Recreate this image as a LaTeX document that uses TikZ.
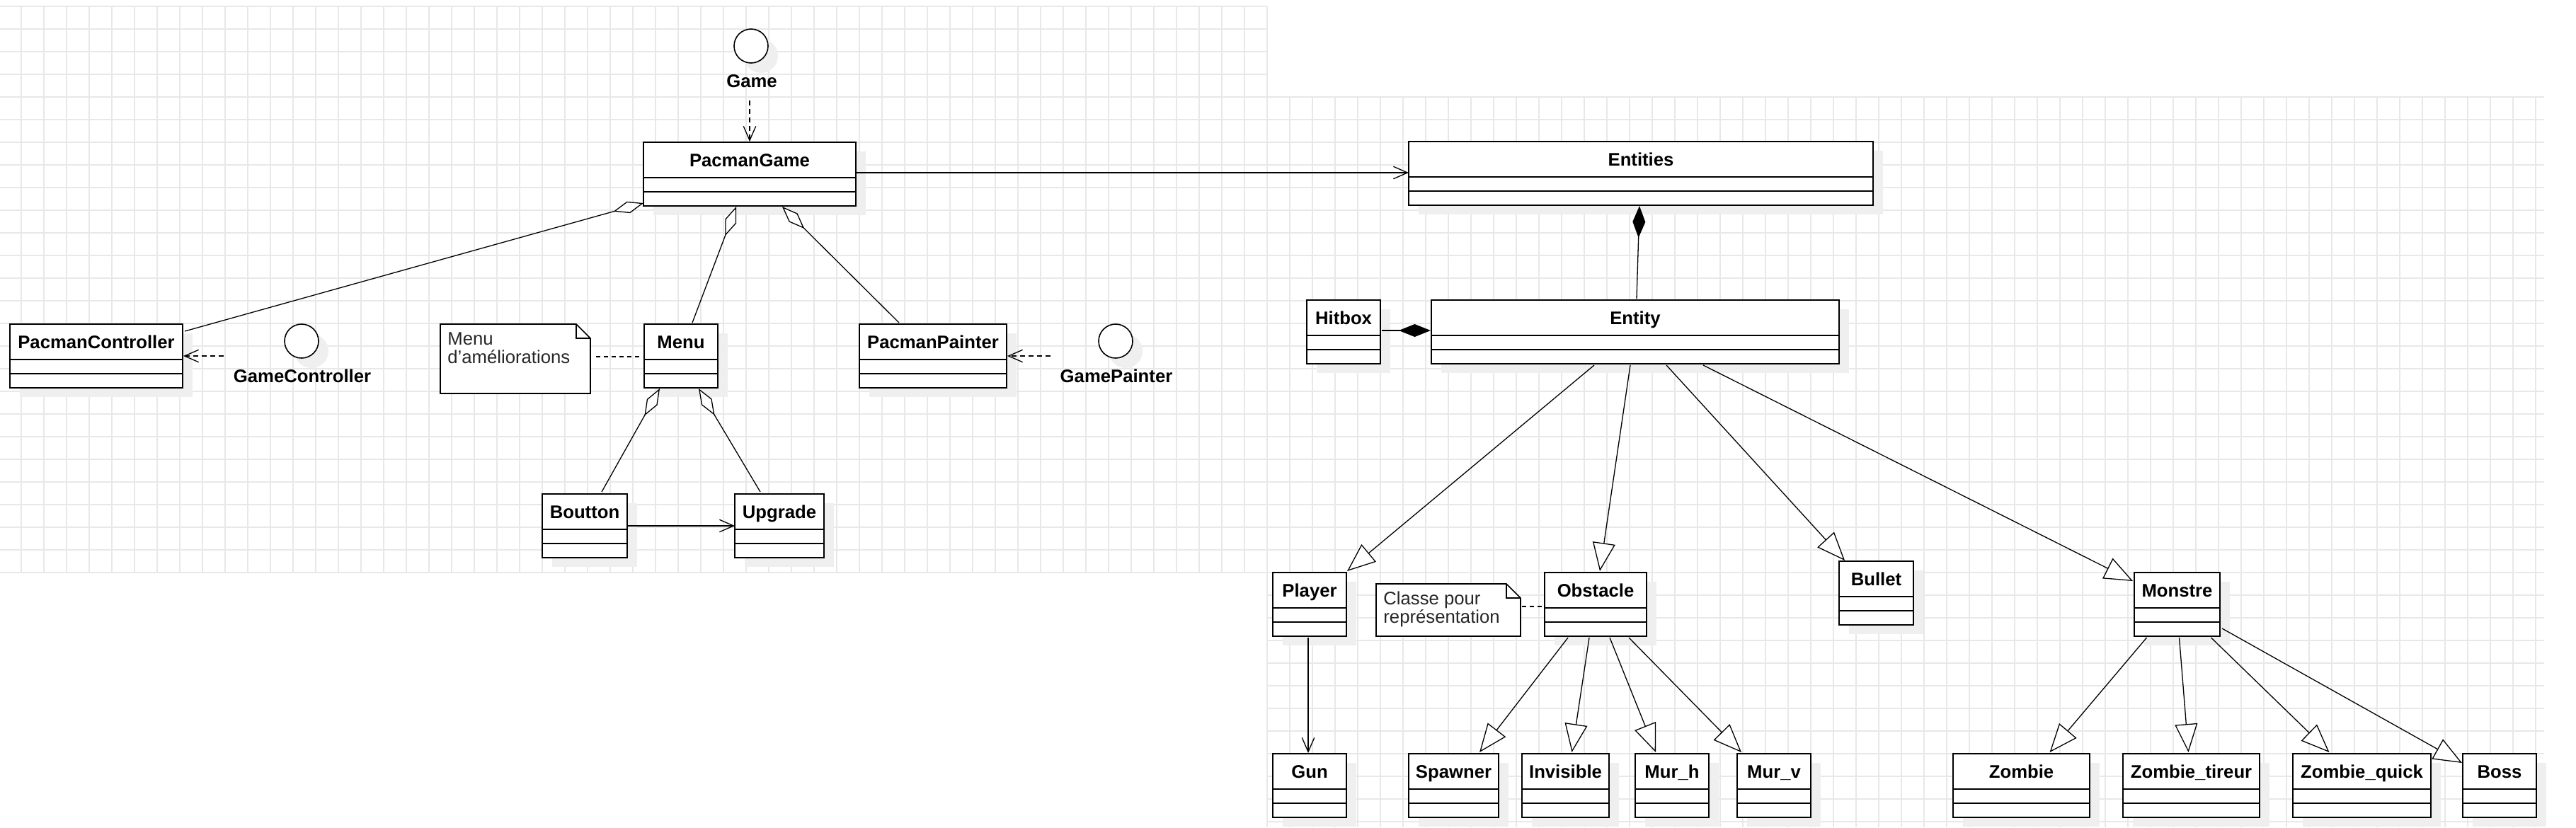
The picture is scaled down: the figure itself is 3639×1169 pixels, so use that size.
\documentclass[tikz,border=0pt]{standalone}
\usepackage{fontspec}
\setmainfont{Liberation Sans}
\usetikzlibrary{arrows.meta,calc}
\definecolor{gridc}{RGB}{232,232,232}
\definecolor{shadowc}{RGB}{239,239,239}
\newcommand{\umlcls}[6]{%
  \fill[shadowc] (#2+14,#3+13) rectangle (#4+14,#5+13);
  \node[classbox, minimum width={(#4-#2)*0.5pt}, minimum height={(#5-#3)*0.5pt}, anchor=north west] (#1) at (#2,#3) {};
  \draw[boxrule] ($(#1.north west)+(0,50)$) -- ($(#1.north east)+(0,50)$);
  \draw[boxrule] ($(#1.north west)+(0,70)$) -- ($(#1.north east)+(0,70)$);
  \node[clsname, anchor=base] at ($(#1.north)+(0,34)$) {#6};
}
\newcommand{\umliface}[5]{% name, cx, cy, label name, text
  \fill[shadowc] (#2+14,#3+14) circle[radius=12pt];
  \node[iface] (#1) at (#2,#3) {};
  \node[clsname, anchor=base] (#4) at ($(#1)+(1,58)$) {#5};
}
\newcommand{\umlnote}[7]{% name, x1,y1,x2,y2, line1, line2
  \node[notebox, minimum width={(#4-#2)*0.5pt}, minimum height={(#5-#3)*0.5pt}, anchor=north west] (#1) at (#2,#3) {};
  \draw[noteline] (#1.north west) -- ($(#1.north east)+(-20,0)$) -- ($(#1.north east)+(0,20)$) -- (#1.south east) -- (#1.south west) -- cycle;
  \draw[noteline, fill=none] ($(#1.north east)+(-20,0)$) -- ($(#1.north east)+(-20,20)$) -- ($(#1.north east)+(0,20)$);
  \node[notetxt, anchor=base west] at ($(#1.north west)+(10,29)$) {#6};
  \node[notetxt, anchor=base west] at ($(#1.north west)+(10,55)$) {#7};
}
\begin{document}
\begin{tikzpicture}[x=0.5pt,y=-0.5pt,
  classbox/.style={rectangle, draw, line width=0.85pt, fill=white, inner sep=0pt, outer sep=0pt},
  boxrule/.style={line width=0.85pt},
  clsname/.style={font=\fontsize{12.85pt}{15pt}\selectfont\bfseries, inner sep=0pt},
  notetxt/.style={font=\fontsize{12.85pt}{15pt}\selectfont, text=black!85, inner sep=0pt},
  notebox/.style={rectangle, inner sep=0pt, outer sep=0pt},
  noteline/.style={draw, line width=0.85pt, fill=white, line join=miter},
  iface/.style={circle, draw, line width=0.8pt, fill=white, minimum size=24pt, inner sep=0pt},
  conn/.style={line width=0.65pt, line join=miter},
  assoc/.style={conn, -{Straight Barb[length=10pt,width=8.7pt]}},
  dep/.style={assoc, dash pattern=on 3.5pt off 2.5pt},
  notelink/.style={conn, dash pattern=on 3pt off 2.5pt},
  aggr/.style={conn, {Diamond[fill=white,length=22pt,width=8.5pt]}-},
  compo/.style={conn, {Diamond[length=22.5pt,width=9pt]}-},
  inherit/.style={conn, -{Triangle[fill=white,length=20pt,width=16pt]}},
  gridline/.style={draw=gridc, line width=0.6pt},
]
\useasboundingbox (0,0) rectangle (3639,1169);
\fill[white] (0,0) rectangle (3639,1169);
% grids
\foreach \k in {0,...,55} \draw[gridline] (30+\k*32,9) -- (30+\k*32,809);
\foreach \k in {0,...,25} \draw[gridline] (0,9+\k*32) -- (1790,9+\k*32);
\foreach \k in {0,...,56} \draw[gridline] (1790+\k*32,137) -- (1790+\k*32,1169);
\foreach \k in {0,...,32} \draw[gridline] (1790,137+\k*32) -- (3594,137+\k*32);

% classes
\umlcls{pg}{909}{201}{1209}{291}{PacmanGame}
\umlcls{pc}{14}{458}{258}{548}{PacmanController}
\umlcls{menu}{910}{458}{1014}{548}{Menu}
\umlcls{pp}{1214}{458}{1422}{548}{PacmanPainter}
\umlcls{bout}{766}{698}{886}{788}{Boutton}
\umlcls{upg}{1038}{698}{1164}{788}{Upgrade}
\umlcls{ents}{1990}{200}{2646}{290}{Entities}
\umlcls{ent}{2022}{424}{2598}{514}{Entity}
\umlcls{hit}{1846}{424}{1950}{514}{Hitbox}
\umlcls{player}{1798}{809}{1902}{899}{Player}
\umlcls{obst}{2182}{809}{2326}{899}{Obstacle}
\umlcls{bullet}{2598}{793}{2703}{883}{Bullet}
\umlcls{monstre}{3015}{809}{3136}{899}{Monstre}
\umlcls{gun}{1798}{1065}{1902}{1155}{Gun}
\umlcls{spawner}{1990}{1065}{2117}{1155}{Spawner}
\umlcls{invis}{2150}{1065}{2273}{1155}{Invisible}
\umlcls{murh}{2310}{1065}{2414}{1155}{Mur\_h}
\umlcls{murv}{2454}{1065}{2558}{1155}{Mur\_v}
\umlcls{zombie}{2759}{1065}{2952}{1155}{Zombie}
\umlcls{ztir}{2999}{1065}{3192}{1155}{Zombie\_tireur}
\umlcls{zq}{3239}{1065}{3434}{1155}{Zombie\_quick}
\umlcls{boss}{3479}{1065}{3583}{1155}{Boss}

% interfaces
\umliface{game}{1061}{65}{gamelbl}{Game}
\umliface{gc}{426}{482}{gclbl}{GameController}
\umliface{gp}{1576}{482}{gplbl}{GamePainter}

% notes
\umlnote{note1}{622}{458}{834}{556}{Menu}{d'améliorations}
\umlnote{note2}{1944}{825}{2148}{899}{Classe pour}{représentation}

% dependencies
\draw[dep] ($(game)+(-2,77)$) -- ($(pg.north)+(0,-1)$);
\draw[dep] ($(pc.east)+(58,0)$) -- ($(pc.east)+(1,0)$);
\draw[dep] ($(pp.east)+(62,0)$) -- ($(pp.east)+(1,0)$);
\draw[notelink] ($(note1.east)+(8,-3)$) -- ($(menu.west)+(-2,1)$);
\draw[notelink] ($(note2.east)+(2,-5)$) -- ($(obst.west)+(0,3)$);

% associations
\draw[assoc] ($(pg.east)+(0,-2)$) -- ($(ents.west)+(0,-1)$);
\draw[assoc] (bout.east) -- (upg.west);
\draw[assoc] ($(player.south)+(-2,2)$) -- ($(gun.north)+(-2,-1)$);

% aggregations
\draw[aggr] ($(pg.south west)+(0,-4)$) -- ($(pc.north east)+(3,10)$);
\draw[aggr] ($(pg.south)+(-19,1)$) -- ($(menu.north)+(16,-2)$);
\draw[aggr] ($(pg.south)+(46,1)$) -- ($(pp.north)+(-48,-2)$);
\draw[aggr] ($(menu.south west)+(22,1)$) -- ($(bout.north)+(24,-3)$);
\draw[aggr] ($(menu.south east)+(-27,1)$) -- ($(upg.north)+(-27,-3)$);

% compositions
\draw[compo] ($(ents.south)+(-2,1)$) -- ($(ent.north)+(2,-2)$);
\draw[compo] ($(ent.west)+(-1,-2)$) -- ($(hit.east)+(2,-2)$);

% inheritance
\draw[inherit] ($(ent.south)+(-58,2)$) -- ($(player.north east)+(1,-2)$);
\draw[inherit] ($(ent.south)+(-7,2)$) -- ($(obst.north)+(6,-2)$);
\draw[inherit] ($(ent.south)+(44,2)$) -- ($(bullet.north west)+(8,-1)$);
\draw[inherit] ($(ent.south)+(96,2)$) -- ($(monstre.north west)+(-2,12)$);
\draw[inherit] ($(obst.south)+(-39,2)$) -- ($(spawner.north east)+(-27,-2)$);
\draw[inherit] ($(obst.south)+(-9,2)$) -- ($(invis.north)+(9,-2)$);
\draw[inherit] ($(obst.south)+(20,2)$) -- ($(murh.north)+(-23,-2)$);
\draw[inherit] ($(obst.south)+(47,2)$) -- ($(murv.north west)+(6,-2)$);
\draw[inherit] ($(monstre.south)+(-43,2)$) -- ($(zombie.north)+(40,-2)$);
\draw[inherit] ($(monstre.south)+(3,2)$) -- ($(ztir.north)+(-4,-2)$);
\draw[inherit] ($(monstre.south)+(48,2)$) -- ($(zq.north)+(-46,-2)$);
\draw[inherit] ($(monstre.east)+(3,34)$) -- ($(boss.north west)+(-1,13)$);
\end{tikzpicture}
\end{document}
